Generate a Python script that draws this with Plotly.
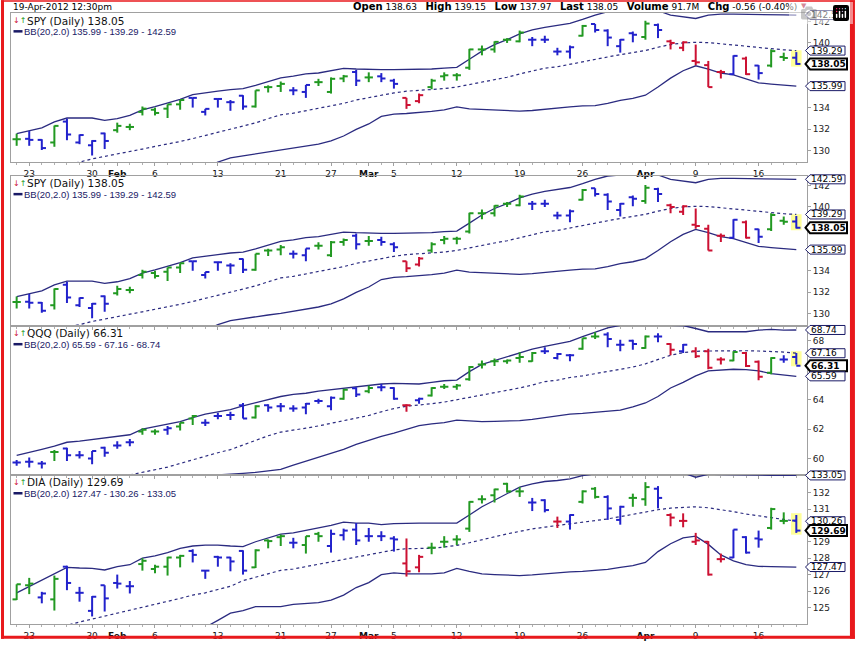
import plotly.graph_objects as go

# ---------------- data ----------------
DATES = ["2012-01-20", "2012-01-23", "2012-01-24", "2012-01-25", "2012-01-26", "2012-01-27",
         "2012-01-30", "2012-01-31", "2012-02-01", "2012-02-02", "2012-02-03", "2012-02-06",
         "2012-02-07", "2012-02-08", "2012-02-09", "2012-02-10", "2012-02-13", "2012-02-14",
         "2012-02-15", "2012-02-16", "2012-02-17", "2012-02-21", "2012-02-22", "2012-02-23",
         "2012-02-24", "2012-02-27", "2012-02-28", "2012-02-29", "2012-03-01", "2012-03-02",
         "2012-03-05", "2012-03-06", "2012-03-07", "2012-03-08", "2012-03-09", "2012-03-12",
         "2012-03-13", "2012-03-14", "2012-03-15", "2012-03-16", "2012-03-19", "2012-03-20",
         "2012-03-21", "2012-03-22", "2012-03-23", "2012-03-26", "2012-03-27", "2012-03-28",
         "2012-03-29", "2012-03-30", "2012-04-02", "2012-04-03", "2012-04-04", "2012-04-05",
         "2012-04-09", "2012-04-10", "2012-04-11", "2012-04-12", "2012-04-13", "2012-04-16",
         "2012-04-17", "2012-04-18", "2012-04-19"]

TICK_DATES = ["2012-01-23", "2012-01-30", "2012-02-01", "2012-02-06", "2012-02-13", "2012-02-21",
              "2012-02-27", "2012-03-01", "2012-03-05", "2012-03-12", "2012-03-19", "2012-03-26",
              "2012-04-02", "2012-04-09", "2012-04-16"]
TICK_TEXT = ["23", "30", "<b>Feb</b>", "6", "13", "21", "27", "<b>Mar</b>", "5", "12", "19", "26",
             "<b>Apr</b>", "9", "16"]

SPY_OPEN = [131.06, 131.1, 131.0, 130.76, 132.7, 130.76, 130.5, 131.6, 131.9, 132.2,
            133.6, 133.8, 133.9, 134.3, 134.9, 133.6, 134.8, 134.5, 135.1, 134.1,
            135.9, 136.0, 135.6, 135.45, 136.36, 135.45, 136.7, 137.3, 136.8, 136.9,
            136.5, 134.9, 134.6, 135.9, 136.9, 137.0, 137.7, 139.4, 139.4, 140.3,
            140.15, 140.3, 140.3, 139.2, 139.2, 140.67, 141.76, 141.15, 139.7, 140.9,
            140.55, 141.67, 140.15, 139.55, 138.33, 137.94, 137.3, 137.1, 138.55, 137.9,
            137.9, 138.7, 138.63]
SPY_HIGH = [131.58, 131.82, 131.06, 132.33, 132.97, 131.5, 130.97, 131.67, 132.6, 132.5,
            134.1, 134.0, 134.3, 134.7, 134.9, 133.88, 134.85, 134.7, 135.15, 135.6,
            136.06, 136.42, 135.9, 136.1, 136.67, 136.8, 137.03, 137.5, 137.27, 137.2,
            136.67, 134.9, 135.3, 136.67, 137.27, 137.2, 139.45, 139.76, 140.15, 140.45,
            141.15, 140.55, 140.67, 139.55, 139.76, 141.67, 141.76, 141.27, 140.36, 141.06,
            142.06, 141.8, 140.3, 140.15, 139.85, 138.33, 137.5, 138.85, 138.73, 137.94,
            139.4, 139.1, 139.15]
SPY_LOW = [130.45, 130.45, 130.06, 130.36, 130.97, 130.6, 129.55, 130.15, 131.67, 131.9,
           133.27, 133.27, 133.03, 133.8, 134.0, 133.27, 134.0, 133.7, 133.8, 134.0,
           135.4, 135.45, 135.15, 134.9, 136.0, 135.3, 136.36, 136.0, 136.36, 136.36,
           135.76, 133.88, 134.4, 135.7, 136.5, 136.5, 137.5, 138.85, 139.1, 140.0,
           140.06, 139.7, 140.0, 138.85, 138.55, 140.6, 140.97, 139.7, 139.1, 140.06,
           140.3, 140.45, 139.4, 139.24, 137.94, 135.9, 136.7, 137.03, 137.03, 136.6,
           137.73, 138.33, 137.97]
SPY_CLOSE = [131.06, 131.0, 130.24, 132.3, 131.5, 131.45, 130.9, 130.9, 132.3, 132.2,
             133.9, 133.5, 134.3, 134.7, 134.9, 133.88, 134.8, 134.5, 134.1, 135.6,
             135.9, 136.2, 135.6, 136.1, 136.36, 136.67, 136.9, 136.5, 136.8, 136.7,
             136.2, 134.24, 135.15, 136.5, 137.0, 137.0, 139.4, 139.4, 140.1, 140.3,
             140.97, 140.3, 140.3, 139.2, 139.6, 141.58, 141.2, 140.5, 140.3, 140.76,
             141.8, 141.2, 140.0, 140.06, 138.2, 135.9, 137.3, 138.8, 137.1, 137.2,
             139.24, 138.6, 138.05]
SPY_COLOR = "GBBGBBBBGG" "GGGGBBBBBG" "GGBBGGGBGB" "BRRGGGGGGG" "GBBBBGBBBB" "GBRRRRRBRB" "GGB"
SPY_BB_UPPER = [131.58, 131.82, 132.12, 132.67, 133.03, 133.03, 133.03, 132.82, 132.97, 133.27,
                133.79, 134.09, 134.45, 134.76, 135.21, 135.39, 135.52, 135.67, 135.76, 136.06,
                136.42, 136.76, 136.91, 137.12, 137.21, 137.42, 137.64, 137.58, 137.52, 137.52,
                137.52, 137.52, 137.52, 137.58, 137.67, 137.73, 138.48, 139.24, 139.85, 140.3,
                140.85, 141.21, 141.45, 141.67, 141.82, 142.18, 142.58, 142.9, 143.0, 143.1,
                143.1, 143.0, 142.58, 142.42, 142.27, 142.58, 142.67, 142.67, 142.67, 142.61,
                142.61, 142.61, 142.59]
SPY_BB_MID = [127.9, 128.1, 128.3, 128.5, 128.72, 128.94, 129.24, 129.45, 129.7, 129.94,
              130.15, 130.39, 130.6, 130.85, 131.12, 131.42, 131.67, 131.97, 132.27, 132.58,
              132.97, 133.33, 133.48, 133.7, 133.94, 134.18, 134.39, 134.7, 134.94, 135.15,
              135.36, 135.52, 135.58, 135.67, 135.76, 135.91, 136.12, 136.36, 136.61, 136.82,
              137.12, 137.42, 137.66, 137.79, 138.03, 138.24, 138.48, 138.7, 138.91, 139.09,
              139.3, 139.6, 139.85, 140.0, 140.06, 140.03, 139.94, 139.82, 139.7, 139.58,
              139.45, 139.36, 139.29]
SPY_BB_LOWER = [124.2, 124.4, 124.6, 124.4, 124.4, 124.85, 125.45, 126.1, 126.4, 126.6,
                126.5, 126.7, 126.9, 127.3, 127.8, 128.4, 128.94, 129.33, 129.52, 129.7,
                129.85, 130.0, 130.21, 130.36, 130.6, 130.9, 131.36, 131.97, 132.48, 133.18,
                133.39, 133.45, 133.52, 133.64, 133.79, 134.06, 133.88, 133.82, 133.76, 133.7,
                133.67, 133.73, 133.86, 133.94, 134.06, 134.15, 134.18, 134.39, 134.67, 134.85,
                135.15, 135.91, 136.73, 137.42, 137.88, 137.58, 137.21, 137.03, 136.67, 136.3,
                136.18, 136.09, 135.99]

QQQ_OPEN = [59.73, 59.78, 59.67, 60.44, 60.69, 60.22, 60.0, 60.73, 60.89, 61.11,
            61.84, 61.84, 61.96, 62.18, 62.73, 62.44, 62.89, 62.96, 63.62, 62.8,
            63.62, 63.56, 63.4, 63.47, 63.91, 63.56, 64.07, 64.78, 64.58, 64.84,
            64.8, 63.62, 63.96, 64.29, 64.89, 64.89, 65.4, 66.4, 66.62, 66.62,
            66.84, 66.62, 67.29, 66.84, 67.02, 67.47, 68.29, 68.44, 67.73, 68.0,
            67.51, 68.29, 67.78, 67.29, 67.29, 67.29, 66.73, 66.67, 67.18, 66.58,
            65.84, 66.73, 66.9]
QQQ_HIGH = [59.91, 60.07, 59.84, 60.58, 60.73, 60.51, 60.51, 60.8, 61.18, 61.33,
            62.07, 62.0, 62.22, 62.44, 62.96, 62.67, 63.11, 63.18, 63.78, 63.62,
            63.69, 63.78, 63.62, 63.78, 64.07, 64.22, 64.73, 64.84, 64.96, 65.07,
            64.84, 63.69, 64.13, 64.84, 65.07, 65.07, 66.29, 66.67, 66.8, 66.73,
            67.22, 67.24, 67.56, 67.18, 67.11, 68.18, 68.58, 68.58, 68.07, 68.07,
            68.36, 68.51, 67.84, 67.78, 67.56, 67.47, 66.89, 67.29, 67.24, 66.67,
            66.89, 67.02, 67.18]
QQQ_LOW = [59.51, 59.4, 59.33, 59.84, 59.84, 60.0, 59.62, 60.13, 60.67, 60.84,
           61.62, 61.62, 61.62, 61.91, 62.29, 62.22, 62.67, 62.62, 62.73, 62.73,
           63.18, 63.18, 63.18, 63.02, 63.73, 63.29, 64.0, 64.18, 64.44, 64.58,
           64.0, 63.18, 63.73, 64.22, 64.73, 64.67, 65.29, 66.13, 66.29, 66.44,
           66.51, 66.58, 67.11, 66.73, 66.62, 67.4, 68.13, 67.56, 67.29, 67.4,
           67.47, 67.91, 67.02, 67.18, 66.84, 66.07, 66.4, 66.62, 66.22, 65.33,
           65.73, 66.51, 66.4]
QQQ_CLOSE = [59.73, 59.78, 59.67, 60.44, 60.22, 60.22, 60.51, 60.4, 60.89, 61.11,
             61.96, 61.84, 62.07, 62.44, 62.89, 62.44, 62.89, 62.96, 62.73, 63.56,
             63.47, 63.56, 63.4, 63.73, 63.91, 64.13, 64.67, 64.36, 64.8, 64.84,
             64.07, 63.62, 64.07, 64.8, 64.89, 64.96, 66.22, 66.4, 66.62, 66.67,
             66.9, 67.18, 67.29, 67.11, 67.02, 68.18, 68.29, 68.13, 67.73, 67.78,
             68.29, 68.29, 67.4, 67.73, 66.96, 66.18, 66.73, 67.24, 66.29, 65.56,
             66.84, 66.73, 66.31]
QQQ_COLOR = "BBBGBBBBBB" "GGBGGBBBBG" "BBBBBBGBGB" "BRBGGGGGGG" "GGBBBGGBBB" "GBRBRRRGRR" "GBB"
QQQ_BB_UPPER = [60.22, 60.4, 60.62, 60.84, 61.11, 61.18, 61.29, 61.4, 61.51, 61.62,
                62.0, 62.18, 62.36, 62.51, 62.78, 63.02, 63.18, 63.33, 63.58, 63.78,
                64.0, 64.22, 64.36, 64.44, 64.58, 64.67, 64.8, 64.89, 64.96, 65.07,
                65.11, 65.11, 65.07, 65.18, 65.29, 65.33, 65.91, 66.4, 66.67, 66.89,
                67.18, 67.44, 67.62, 67.78, 67.96, 68.29, 68.58, 68.89, 69.05, 69.08,
                69.08, 69.08, 69.08, 69.04, 68.84, 68.62, 68.62, 68.62, 68.62, 68.73,
                68.78, 68.73, 68.74]
QQQ_BB_MID = [57.9, 58.0, 58.1, 58.2, 58.3, 58.4, 58.5, 58.62, 58.75, 58.89,
              59.07, 59.22, 59.42, 59.67, 59.92, 60.18, 60.4, 60.61, 60.93, 61.24,
              61.55, 61.8, 61.91, 62.07, 62.22, 62.4, 62.56, 62.73, 62.93, 63.18,
              63.4, 63.56, 63.62, 63.73, 63.84, 64.0, 64.18, 64.33, 64.49, 64.62,
              64.8, 65.0, 65.23, 65.33, 65.51, 65.62, 65.78, 65.89, 66.07, 66.22,
              66.44, 66.73, 67.02, 67.2, 67.29, 67.31, 67.33, 67.33, 67.33, 67.31,
              67.29, 67.24, 67.16]
QQQ_BB_LOWER = [55.5, 55.6, 55.7, 55.8, 55.9, 56.0, 56.2, 56.4, 56.6, 56.8,
                57.0, 57.3, 57.6, 57.9, 58.2, 58.5, 58.89, 58.93, 59.0, 59.07,
                59.16, 59.27, 59.56, 59.82, 60.07, 60.36, 60.62, 60.96, 61.24, 61.51,
                61.73, 61.96, 62.24, 62.36, 62.44, 62.62, 62.58, 62.51, 62.53, 62.56,
                62.58, 62.67, 62.79, 62.89, 63.02, 63.07, 63.13, 63.18, 63.29, 63.51,
                63.78, 64.22, 64.8, 65.18, 65.62, 65.96, 66.04, 66.07, 66.04, 65.96,
                65.78, 65.69, 65.59]

DIA_OPEN = [125.5, 126.36, 125.62, 125.5, 127.49, 125.9, 124.8, 126.36, 126.5, 126.3,
            127.65, 127.35, 127.49, 128.05, 128.45, 127.25, 128.09, 128.05, 128.45, 127.45,
            129.09, 129.29, 128.95, 128.81, 129.49, 128.75, 129.41, 129.75, 129.35, 129.35,
            129.21, 127.69, 127.45, 128.65, 129.01, 129.15, 129.81, 131.6, 131.84, 132.54,
            132.08, 131.4, 131.54, 130.24, 130.24, 131.44, 132.24, 131.74, 130.34, 131.68,
            131.6, 132.24, 130.64, 130.28, 129.01, 129.01, 127.95, 128.05, 129.29, 129.21,
            129.85, 130.28, 130.3]
DIA_HIGH = [126.42, 126.81, 125.96, 126.95, 127.55, 126.26, 125.7, 126.36, 127.01, 126.62,
            128.01, 127.61, 128.09, 128.21, 128.55, 127.29, 128.15, 128.09, 128.49, 128.55,
            129.15, 129.45, 129.25, 129.35, 129.61, 129.75, 129.81, 130.15, 129.85, 129.65,
            129.35, 129.21, 128.21, 128.95, 129.35, 129.41, 131.48, 131.84, 132.24, 132.6,
            132.34, 131.68, 131.6, 130.54, 130.68, 132.14, 132.34, 131.84, 131.2, 131.94,
            132.64, 132.4, 130.74, 130.74, 129.55, 129.05, 128.29, 129.75, 129.35, 129.69,
            131.08, 130.8, 130.64]
DIA_LOW = [125.46, 125.82, 125.26, 124.82, 126.06, 125.36, 124.46, 124.76, 126.16, 125.86,
           127.25, 127.09, 126.95, 127.45, 127.75, 126.75, 127.49, 127.21, 127.01, 127.41,
           128.61, 128.75, 128.61, 128.29, 129.01, 128.35, 129.09, 128.81, 129.01, 129.05,
           128.41, 126.89, 127.15, 128.25, 128.65, 128.81, 129.61, 131.34, 131.4, 132.0,
           131.74, 130.88, 130.8, 129.85, 129.75, 131.34, 131.64, 130.34, 130.05, 131.14,
           131.2, 131.04, 129.95, 129.89, 128.81, 126.95, 127.75, 128.01, 128.29, 128.65,
           129.75, 130.08, 129.55]
DIA_CLOSE = [126.42, 126.46, 125.86, 126.75, 126.5, 125.9, 125.66, 125.56, 126.46, 126.3,
             127.85, 127.49, 128.05, 128.15, 128.21, 127.25, 128.05, 127.81, 127.25, 128.49,
             129.05, 129.35, 128.95, 129.35, 129.35, 129.49, 129.69, 129.09, 129.35, 129.35,
             129.15, 127.21, 128.09, 128.65, 129.01, 129.15, 131.44, 131.6, 132.2, 132.08,
             132.08, 131.4, 130.94, 130.24, 130.64, 132.08, 131.74, 131.04, 131.14, 131.68,
             132.34, 131.68, 130.48, 130.28, 129.09, 127.01, 127.95, 129.75, 128.35, 129.15,
             131.0, 130.28, 129.69]
DIA_COLOR = "GGBGBBBBBB" "GGGGBBBBBG" "GGBGGBBBBB" "BRRGGGGGGG" "GBBRBGGBBG" "GBRRRRRBBB" "GGB"
DIA_BB_UPPER = [125.9, 126.3, 126.65, 127.05, 127.45, 127.41, 127.39, 127.29, 127.49, 127.61,
                128.01, 128.15, 128.35, 128.61, 128.75, 128.81, 128.81, 128.75, 128.71, 129.01,
                129.25, 129.47, 129.55, 129.69, 129.85, 130.01, 130.2, 130.15, 130.15, 130.05,
                130.11, 130.15, 130.15, 130.15, 130.15, 130.15, 130.64, 131.14, 131.54, 131.94,
                132.34, 132.54, 132.68, 132.74, 132.84, 133.04, 133.16, 133.25, 133.3, 133.3,
                133.3, 133.3, 133.25, 133.2, 132.94, 133.12, 133.1, 133.1, 133.08, 133.07,
                133.06, 133.05, 133.05]
DIA_BB_MID = [123.3, 123.45, 123.6, 123.75, 123.92, 124.12, 124.3, 124.46, 124.66, 124.82,
              125.02, 125.16, 125.36, 125.56, 125.76, 125.9, 126.1, 126.3, 126.64, 126.84,
              127.05, 127.27, 127.35, 127.49, 127.65, 127.79, 127.91, 128.05, 128.19, 128.35,
              128.51, 128.59, 128.59, 128.61, 128.69, 128.79, 128.95, 129.15, 129.31, 129.49,
              129.65, 129.79, 129.9, 129.99, 130.09, 130.19, 130.3, 130.4, 130.54, 130.68,
              130.84, 130.96, 131.06, 131.12, 131.14, 131.08, 130.98, 130.84, 130.7, 130.6,
              130.5, 130.4, 130.26]
DIA_BB_LOWER = [120.9, 120.8, 120.75, 120.6, 120.45, 120.8, 121.2, 121.6, 121.8, 122.0,
                122.0, 122.2, 122.4, 122.5, 123.2, 123.8, 124.22, 124.66, 124.82, 125.06,
                125.06, 125.06, 125.2, 125.26, 125.3, 125.46, 125.76, 126.22, 126.52, 127.01,
                127.11, 127.05, 127.05, 127.05, 127.11, 127.39, 127.21, 127.05, 127.01, 126.97,
                126.95, 126.99, 127.06, 127.09, 127.17, 127.21, 127.25, 127.33, 127.45, 127.55,
                127.75, 128.41, 128.89, 129.25, 129.35, 128.85, 128.21, 127.85, 127.61, 127.51,
                127.49, 127.47, 127.47]

HEADER_TIME = "19-Apr-2012 12:30pm"
HEADER_VOLUME = "91.7M"
HEADER_CHG = "-0.56 (-0.40%)"

# ---------------- styling / layout ----------------
W, H = 855, 651
ML, MR, MT, MB = 10, 48, 13, 15
PW, PH = W - ML - MR, H - MT - MB


def px_x(px):
    return (px - ML) / PW


def px_y(py):
    return (H - MB - py) / PH


GREEN, BLUE, RED = "#229922", "#2222cc", "#cc1133"
NAVY = "#2b2b80"
TAGNAVY = "#1a1a66"
COLMAP = {"G": GREEN, "B": BLUE, "R": RED}
FONT = "DejaVu Sans"
HALF = 0.33

PANELS = [
    dict(sym="SPY", o=SPY_OPEN, h=SPY_HIGH, l=SPY_LOW, c=SPY_CLOSE, col=SPY_COLOR,
         up=SPY_BB_UPPER, mid=SPY_BB_MID, lo=SPY_BB_LOWER,
         px=(13, 165), yr=(128.94, 142.78), ticks=[130, 132, 134, 140, 142]),
    dict(sym="SPY", o=SPY_OPEN, h=SPY_HIGH, l=SPY_LOW, c=SPY_CLOSE, col=SPY_COLOR,
         up=SPY_BB_UPPER, mid=SPY_BB_MID, lo=SPY_BB_LOWER,
         px=(179, 332), yr=(128.83, 142.92), ticks=[130, 132, 134, 140, 142]),
    dict(sym="QQQ", o=QQQ_OPEN, h=QQQ_HIGH, l=QQQ_LOW, c=QQQ_CLOSE, col=QQQ_COLOR,
         up=QQQ_BB_UPPER, mid=QQQ_BB_MID, lo=QQQ_BB_LOWER,
         px=(332, 484), yr=(58.89, 69.02), ticks=[60, 62, 64, 68]),
    dict(sym="DIA", o=DIA_OPEN, h=DIA_HIGH, l=DIA_LOW, c=DIA_CLOSE, col=DIA_COLOR,
         up=DIA_BB_UPPER, mid=DIA_BB_MID, lo=DIA_BB_LOWER,
         px=(484, 636), yr=(124.0, 133.08), ticks=[125, 126, 127, 128, 129, 131, 132]),
]

X = list(range(len(DATES)))
TICK_IDX = [DATES.index(d) for d in TICK_DATES]

fig = go.Figure()
shapes, annots = [], []

for k, p in enumerate(PANELS, start=1):
    xa = "x" if k == 1 else f"x{k}"
    ya = "y" if k == 1 else f"y{k}"
    # Bollinger lines
    fig.add_trace(go.Scatter(x=X, y=p["up"], mode="lines", line=dict(color=NAVY, width=1.3),
                             xaxis=xa, yaxis=ya, hoverinfo="skip", showlegend=False))
    fig.add_trace(go.Scatter(x=X, y=p["lo"], mode="lines", line=dict(color=NAVY, width=1.3),
                             xaxis=xa, yaxis=ya, hoverinfo="skip", showlegend=False))
    fig.add_trace(go.Scatter(x=X, y=p["mid"], mode="lines",
                             line=dict(color=NAVY, width=1.2, dash="dot"),
                             xaxis=xa, yaxis=ya, hoverinfo="skip", showlegend=False))
    # OHLC bars
    for code in "GBR":
        xs, ys = [], []
        for i in X:
            if p["col"][i] != code:
                continue
            xs += [i, i, None, i - HALF, i, None, i, i + HALF, None]
            ys += [p["l"][i], p["h"][i], None, p["o"][i], p["o"][i], None,
                   p["c"][i], p["c"][i], None]
        fig.add_trace(go.Scatter(x=xs, y=ys, mode="lines",
                                 line=dict(color=COLMAP[code], width=2),
                                 xaxis=xa, yaxis=ya, hoverinfo="skip", showlegend=False))

    top, bot = p["px"]
    dom = [px_y(bot), px_y(top)]
    y0, y1 = p["yr"]
    span = y1 - y0
    fig.layout[("xaxis" if k == 1 else f"xaxis{k}")] = dict(
        domain=[0, 1], range=[-0.45, 62.85], anchor=ya, showgrid=False, zeroline=False,
        showline=True, mirror=True, linecolor="#a0a0a0", linewidth=1,
        tickmode="array", tickvals=TICK_IDX, ticktext=TICK_TEXT,
        showticklabels=(k in (1, 4)), ticks="outside", ticklen=3, tickcolor="#a0a0a0",
        tickfont=dict(family=FONT, size=9, color="#111"),
        minor=dict(ticks="outside", ticklen=2, tickmode="linear", tick0=0, dtick=1,
                   tickcolor="#b0b0b0", showgrid=False),
        fixedrange=True)
    fig.layout[("yaxis" if k == 1 else f"yaxis{k}")] = dict(
        domain=dom, range=[y0, y1], anchor=xa, side="right", showgrid=False, zeroline=False,
        showline=True, mirror=True, linecolor="#a0a0a0", linewidth=1,
        tickmode="array", tickvals=p["ticks"], ticks="outside", ticklen=3,
        tickcolor="#a0a0a0", tickfont=dict(family=FONT, size=9, color="#222"),
        fixedrange=True)

    # highlight of the latest (intraday) bar
    n = len(X) - 1
    shapes.append(dict(type="rect", xref=xa, yref=ya, x0=n - 0.42, x1=n + 0.42,
                       y0=p["l"][n] - 0.012 * span, y1=p["h"][n] + 0.012 * span,
                       fillcolor="#ffff99", line=dict(width=0), layer="below"))

    # value tags on right axis (box = shape, text = annotation)
    tags = [(p["up"][n], False), (p["mid"][n], False), (p["c"][n], True), (p["lo"][n], False)]
    for val, bold in tags:
        bc = "#000000" if bold else TAGNAVY
        hh = 5.5 if bold else 4.5
        ww = 40 if bold else 38
        shapes.append(dict(type="path", xref="paper", yref=f"{ya} domain",
                           xsizemode="pixel", ysizemode="pixel", xanchor=1,
                           yanchor=(val - y0) / span,
                           path=f"M -1.5,0 L 3,{hh} L {ww},{hh} L {ww},-{hh} L 3,-{hh} Z",
                           fillcolor="white", line=dict(color=bc, width=2 if bold else 1),
                           layer="above"))
        annots.append(dict(x=1, xref="paper", xanchor="left", xshift=4, y=val, yref=ya,
                           yanchor="middle", showarrow=False,
                           text=(f"<b>{val:.2f}</b>" if bold else f"{val:.2f}"),
                           font=dict(family=FONT, size=9, color="#000"),
                           borderpad=0, borderwidth=0))

    # panel legend
    l1, l2 = top + 7.7, top + 18.7
    annots.append(dict(x=px_x(11.5), y=px_y(l1), xref="paper", yref="paper", xanchor="left",
                       yanchor="middle", showarrow=False, borderpad=0,
                       text=f"<span style='color:{RED}'>↓</span><span style='color:{GREEN}'>↑</span>",
                       font=dict(family=FONT, size=8)))
    annots.append(dict(x=px_x(25), y=px_y(l1), xref="paper", yref="paper", xanchor="left",
                       yanchor="middle", showarrow=False, borderpad=0,
                       text=f"{p['sym']} (Daily) {p['c'][n]:.2f}",
                       font=dict(family=FONT, size=10.5, color="#111")))
    shapes.append(dict(type="line", xref="paper", yref="paper", x0=px_x(12.5), x1=px_x(21.5),
                       y0=px_y(l2), y1=px_y(l2), line=dict(color=TAGNAVY, width=2.5)))
    annots.append(dict(x=px_x(22), y=px_y(l2), xref="paper", yref="paper", xanchor="left",
                       yanchor="middle", showarrow=False, borderpad=0,
                       text=f"BB(20,2.0) {p['lo'][n]:.2f} - {p['mid'][n]:.2f} - {p['up'][n]:.2f}",
                       font=dict(family="Liberation Sans", size=9.5, color=TAGNAVY)))

# header
n = len(X) - 1
annots.append(dict(x=px_x(11), y=px_y(6.5), xref="paper", yref="paper", xanchor="left",
                   yanchor="middle", showarrow=False, text=HEADER_TIME, borderpad=0,
                   font=dict(family=FONT, size=9, color="#000")))
SP = "\u00a0\u00a0\u00a0"
hdr = (f"<span style='font-size:10px'><b>Open</b></span> {SPY_OPEN[n]:.2f}{SP}"
       f"<span style='font-size:10px'><b>High</b></span> {SPY_HIGH[n]:.2f}{SP}"
       f"<span style='font-size:10px'><b>Low</b></span> {SPY_LOW[n]:.2f}{SP}"
       f"<span style='font-size:10px'><b>Last</b></span> {SPY_CLOSE[n]:.2f}{SP}"
       f"<span style='font-size:10px'><b>Volume</b></span> {HEADER_VOLUME}{SP}"
       f"<span style='font-size:10px'><b>Chg</b></span> {HEADER_CHG}")
annots.append(dict(x=px_x(798), y=px_y(6.5), xref="paper", yref="paper", xanchor="right",
                   yanchor="middle", showarrow=False, text=hdr, borderpad=0,
                   font=dict(family=FONT, size=9, color="#000")))
annots.append(dict(x=px_x(808), y=px_y(5.5), xref="paper", yref="paper", xanchor="right",
                   yanchor="middle", showarrow=False, text="▼", borderpad=0,
                   font=dict(family=FONT, size=7, color="#aa1133")))

# red outer frame
RF = "#e8191c"
for (a, b, c, d) in [(0, 3, 0, 651), (0, 855, 0, 1.5), (850, 855, 0, 651), (0, 855, 648, 651)]:
    shapes.append(dict(type="rect", xref="paper", yref="paper", x0=px_x(a), x1=px_x(b),
                       y0=px_y(d), y1=px_y(c), fillcolor=RF, line=dict(width=0), layer="above"))

fig.update_layout(width=W, height=H, margin=dict(l=ML, r=MR, t=MT, b=MB),
                  paper_bgcolor="white", plot_bgcolor="white", hovermode=False,
                  showlegend=False, shapes=shapes, annotations=annots,
                  font=dict(family=FONT, size=9))

PAGE_FIX = (
    "(function(){var de=document.documentElement,b=document.body;"
    "[de,b].forEach(function(e){e.style.margin='0';e.style.padding='0';"
    "e.style.overflow='hidden';e.style.width='855px';e.style.height='651px';});"
    "var g=document.getElementsByClassName('plotly-graph-div');"
    "for(var i=0;i<g.length;i++){g[i].style.display='block';g[i].style.overflow='hidden';"
    "var p=g[i].parentNode;if(p&&p!==b){p.style.height='651px';p.style.overflow='hidden';}"
    "var s=g[i].getElementsByClassName('svg-container');"
    "for(var j=0;j<s.length;j++){s[j].style.display='block';}}})();"
)
fig.write_html("out.html", post_script=PAGE_FIX)
